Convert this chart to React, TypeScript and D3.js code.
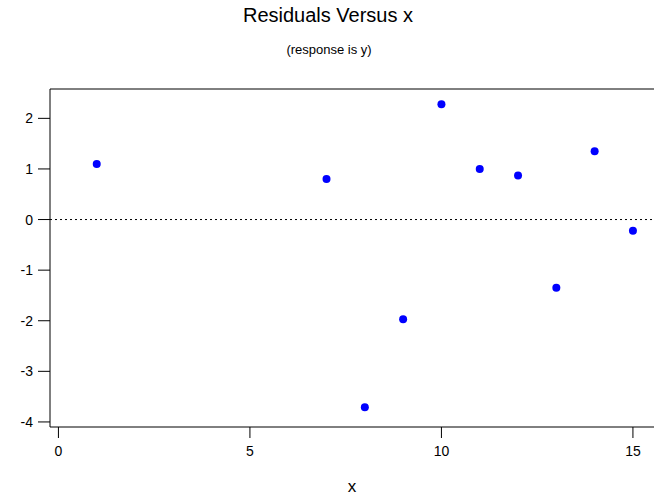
import React from "react";
import * as d3 from "d3";

const xValues = [1, 7, 8, 9, 10, 11, 12, 13, 14, 15];
const residuals = [1.1, 0.8, -3.71, -1.97, 2.28, 1.0, 0.87, -1.35, 1.35, -0.22];
const xTicks = [0, 5, 10, 15];
const yTicks = [-4, -3, -2, -1, 0, 1, 2];

const W = 654;
const H = 496;
const L = 50;
const R = 654;
const T = 89;
const B = 427;

export default function App() {
  const x = d3.scaleLinear().domain([-0.22, 15.55]).range([L, R]);
  const y = d3.scaleLinear().domain([-4.1, 2.58]).range([B, T]);
  const font = "Arial, 'Liberation Sans', sans-serif";
  return (
    <svg
      width={W}
      height={H}
      style={{ position: "absolute", left: 0, top: 0, display: "block", background: "#fff" }}
      fontFamily={font}
    >
      <text x={328} y={22} textAnchor="middle" fontSize={20} fill="#000">
        Residuals Versus x
      </text>
      <text x={329} y={54} textAnchor="middle" fontSize={13} fill="#000">
        (response is y)
      </text>
      <line x1={L} x2={R} y1={T} y2={T} stroke="#000" strokeWidth={1} />
      <line x1={L} x2={L} y1={T} y2={B} stroke="#000" strokeWidth={1} />
      <line x1={L} x2={R} y1={B} y2={B} stroke="#000" strokeWidth={1} />
      <line x1={L} x2={R} y1={y(0)} y2={y(0)} stroke="#000" strokeWidth={1} strokeDasharray="2,3" />
      {yTicks.map((t) => (
        <g key={"y" + t}>
          <line x1={L - 12} x2={L} y1={y(t)} y2={y(t)} stroke="#000" />
          <text x={33} y={y(t) + 5} textAnchor="end" fontSize={14} fill="#000">
            {t}
          </text>
        </g>
      ))}
      {xTicks.map((t) => (
        <g key={"x" + t}>
          <line x1={x(t)} x2={x(t)} y1={B} y2={B + 11} stroke="#000" />
          <text x={x(t)} y={456} textAnchor="middle" fontSize={14} fill="#000">
            {t}
          </text>
        </g>
      ))}
      <text x={(L + R) / 2} y={492} textAnchor="middle" fontSize={17} fill="#000">
        x
      </text>
      {xValues.map((v, i) => (
        <circle key={i} cx={x(v)} cy={y(residuals[i])} r={4} fill="#0000ff" />
      ))}
    </svg>
  );
}
